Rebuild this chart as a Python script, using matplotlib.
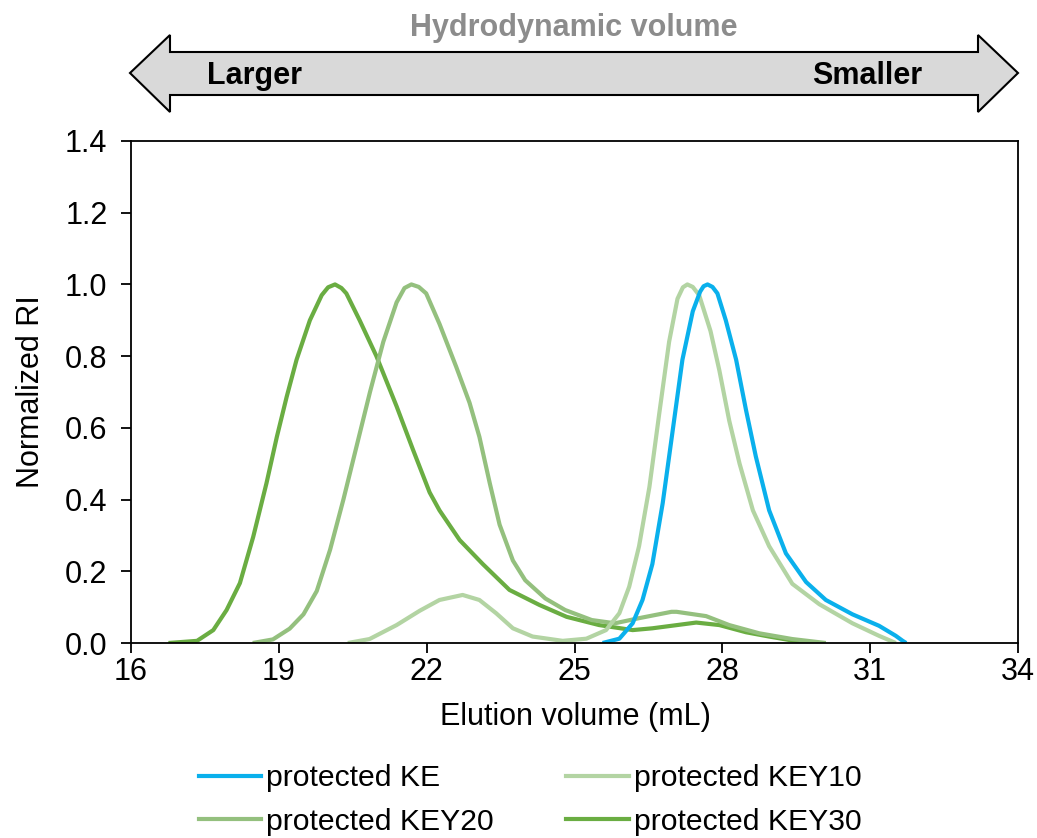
import numpy as np
import matplotlib.pyplot as plt
from matplotlib.patches import Polygon
from matplotlib.lines import Line2D

plt.rcParams['font.family'] = ['Liberation Sans', 'DejaVu Sans']

# values (elution volume in mL, normalized RI)
ke_x = [25.57, 25.91, 26.18, 26.38, 26.58, 26.79, 26.99, 27.19, 27.4, 27.55, 27.62, 27.7, 27.8,
        27.9, 28.07, 28.28, 28.48, 28.68, 28.95, 29.29, 29.7, 30.1, 30.64, 31.18, 31.52, 31.66, 31.73]
ke_y = [0.0, 0.012, 0.055, 0.12, 0.22, 0.39, 0.59, 0.79, 0.925, 0.98, 0.995, 1.0, 0.993,
        0.975, 0.9, 0.79, 0.65, 0.52, 0.37, 0.25, 0.17, 0.12, 0.08, 0.048, 0.02, 0.006, 0.0]

key10_x = [20.4, 20.84, 21.39, 21.86, 22.26, 22.73, 23.07, 23.41, 23.75, 24.15, 24.76, 25.24,
           25.64, 25.91, 26.11, 26.31, 26.52, 26.72, 26.92, 27.09, 27.2, 27.29, 27.4, 27.53,
           27.76, 27.94, 28.14, 28.35, 28.62, 28.95, 29.42, 29.97, 30.64, 31.18, 31.52]
key10_y = [0.0, 0.011, 0.05, 0.09, 0.12, 0.134, 0.12, 0.083, 0.041, 0.018, 0.006, 0.012,
           0.036, 0.083, 0.157, 0.27, 0.435, 0.64, 0.84, 0.96, 0.992, 1.0, 0.993, 0.97,
           0.87, 0.76, 0.62, 0.5, 0.37, 0.27, 0.165, 0.108, 0.055, 0.02, 0.0]

key20_x = [18.47, 18.88, 19.22, 19.5, 19.77, 20.04, 20.31, 20.58, 20.85, 21.12, 21.39, 21.55,
           21.69, 21.84, 21.99, 22.26, 22.6, 22.87, 23.07, 23.28, 23.48, 23.75, 24.0, 24.41,
           24.81, 25.35, 25.82, 26.3, 26.97, 27.07, 27.67, 28.14, 28.75, 29.42, 30.1]
key20_y = [0.0, 0.01, 0.04, 0.08, 0.145, 0.26, 0.4, 0.55, 0.7, 0.84, 0.95, 0.99,
           1.0, 0.993, 0.975, 0.89, 0.77, 0.67, 0.575, 0.446, 0.33, 0.23, 0.175, 0.124,
           0.092, 0.064, 0.055, 0.069, 0.087, 0.087, 0.075, 0.05, 0.027, 0.011, 0.0]

key30_x = [16.76, 17.34, 17.67, 17.94, 18.21, 18.48, 18.75, 18.96, 19.16, 19.36, 19.63, 19.87,
           20.0, 20.14, 20.27, 20.37, 20.64, 20.98, 21.39, 21.72, 22.06, 22.26, 22.67, 23.14,
           23.68, 24.29, 24.84, 25.5, 26.18, 26.58, 27.47, 27.94, 28.48, 28.95, 29.42, 29.9]
key30_y = [0.0, 0.006, 0.036, 0.092, 0.167, 0.296, 0.446, 0.575, 0.687, 0.79, 0.9, 0.97,
           0.992, 1.0, 0.99, 0.975, 0.9, 0.8, 0.66, 0.54, 0.42, 0.37, 0.287, 0.22,
           0.148, 0.106, 0.073, 0.05, 0.036, 0.041, 0.057, 0.05, 0.03, 0.018, 0.007, 0.0]

names = ["protected KE", "protected KEY10", "protected KEY20", "protected KEY30"]
colors = ["#0AB0EC", "#B3D4A3", "#94C07E", "#6AAD42"]

W, H = 1037, 838
fig = plt.figure(figsize=(W / 100, H / 100), dpi=100)
ax = fig.add_axes([131 / W, 1 - 643 / H, (1018 - 131) / W, (643 - 141) / H])

series = [(key30_x, key30_y), (key20_x, key20_y), (key10_x, key10_y), (ke_x, ke_y)]
cols = [colors[3], colors[2], colors[1], colors[0]]
for (xs, ys), c in zip(series, cols):
    ax.plot(xs, ys, color=c, lw=3.0, solid_capstyle='butt', solid_joinstyle='round')

ax.set_xlim(16, 34)
ax.set_ylim(0, 1.4)
ax.set_xticks(np.arange(16, 35, 3))
ax.set_yticks(np.arange(0, 1.41, 0.2))
ax.set_yticklabels([f"{v:.1f}" for v in np.arange(0, 1.41, 0.2)])
ax.tick_params(labelsize=22, length=7, width=1.3, direction='out')
ax.tick_params(axis='y', pad=10)
ax.tick_params(axis='x', pad=3)
for s in ax.spines.values():
    s.set_linewidth(1.3)

fig.text(31 / W, 1 - 392 / H, "Normalized RI", rotation=90, ha='center', va='center', fontsize=22)
fig.text(575 / W, 1 - 717 / H, "Elution volume (mL)", ha='center', va='center', fontsize=22)

# double arrow on top
pts = [(130, 73), (170, 35), (170, 52), (978, 52), (978, 35), (1018, 73),
       (978, 112), (978, 95), (170, 95), (170, 112)]
arrow = Polygon([(px / W, 1 - py / H) for px, py in pts], closed=True,
                transform=fig.transFigure, facecolor="#D9D9D9", edgecolor="black", lw=1.5)
fig.patches.append(arrow)
fig.text(574 / W, 1 - 28 / H, "Hydrodynamic volume", ha='center', va='center',
         fontsize=22, fontweight='bold', color="#8C8C8C")
fig.text(207 / W, 1 - 76 / H, "Larger", ha='left', va='center', fontsize=22, fontweight='bold')
fig.text(922 / W, 1 - 76 / H, "Smaller", ha='right', va='center', fontsize=22, fontweight='bold')

handles = [Line2D([], [], color=c, lw=3.0) for c in colors]
order = [0, 2, 1, 3]
fig.legend([handles[i] for i in order], [names[i] for i in order], ncol=2, frameon=False,
           loc='center', bbox_to_anchor=(530 / W, 1 - 800 / H), fontsize=21.7,
           handlelength=2.07, handletextpad=0.17, columnspacing=2.4, labelspacing=0.5,
           borderpad=0, borderaxespad=0)

fig.savefig("out.png", dpi=100)
